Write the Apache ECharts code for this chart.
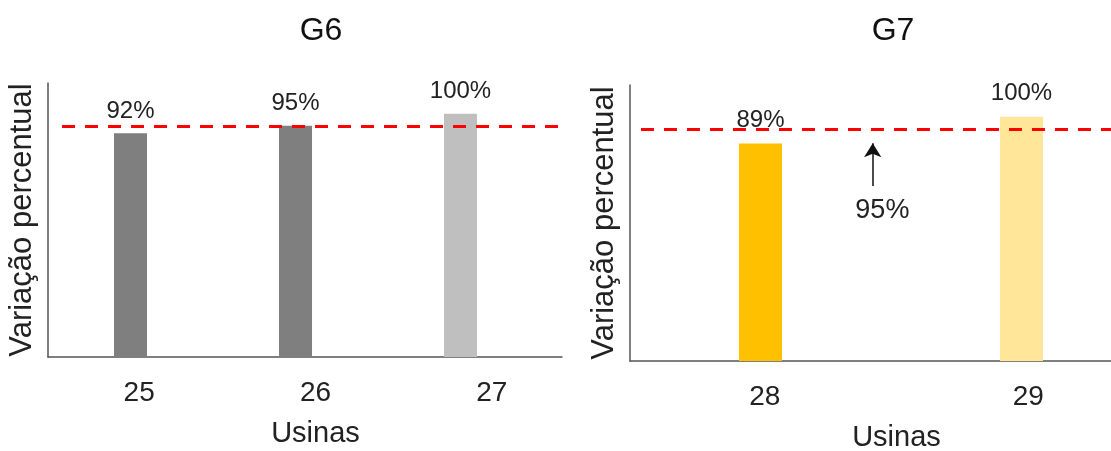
<!DOCTYPE html>
<html>
<head>
<meta charset="utf-8">
<script src="https://cdn.jsdelivr.net/npm/echarts@6/dist/echarts.min.js"></script>
<style>
html,body{margin:0;padding:0;background:#fff;}
#chart{width:1111px;height:451px;}
</style>
</head>
<body>
<div id="chart"></div>
<script>
// ---- data ----
const titles = ['G6', 'G7'];
const g6Usinas = ['25', '26', '27'];
const g6Values = [92, 95, 100];
const g7Usinas = ['28', '29'];
const g7Values = [89, 100];
const metaValue = 95;
const metaLabel = '95%';
const yName = 'Variação percentual';
const xName = 'Usinas';

// ---- styles ----
const g6Colors = ['#7f7f7f', '#7f7f7f', '#bfbfbf'];
const g7Colors = ['#ffc000', '#ffe699'];
const FONT = 'Liberation Sans, Arial, sans-serif';
const axisColor = '#555555';

const chart = echarts.init(document.getElementById('chart'));

function barData(usinas, values, colors) {
  return usinas.map((u, i) => ({ value: [Number(u), values[i]], itemStyle: { color: colors[i] } }));
}

const dashStyle = { color: '#ff0000', width: 3, type: [13, 10] };

const option = {
  animation: false,
  title: [
    { text: titles[0], left: 316, top: 10, textAlign: 'center',
      textStyle: { fontFamily: FONT, fontSize: 32, fontWeight: 'normal', color: '#111' } },
    { text: titles[1], left: 888, top: 10, textAlign: 'center',
      textStyle: { fontFamily: FONT, fontSize: 32, fontWeight: 'normal', color: '#111' } }
  ],
  grid: [
    { left: 48, width: 514, top: 83, height: 274, outerBoundsMode: 'none' },   // G6 bars
    { left: 51, width: 529, top: 83, height: 274, outerBoundsMode: 'none' },   // G6 labels
    { left: 630, width: 481, top: 85, height: 276, outerBoundsMode: 'none' },  // G7 bars
    { left: 633, width: 527, top: 85, height: 276, outerBoundsMode: 'none' }   // G7 labels
  ],
  xAxis: [
    { gridIndex: 0, type: 'value', min: 24.5, max: 27.615,
      axisLine: { show: true, onZero: false, lineStyle: { color: axisColor, width: 1.5 } },
      axisTick: { show: false }, axisLabel: { show: false }, splitLine: { show: false } },
    { gridIndex: 1, type: 'category', data: g6Usinas,
      axisLine: { show: false }, axisTick: { show: false },
      axisLabel: { fontFamily: FONT, fontSize: 28, color: '#222', margin: 22 },
      name: xName, nameLocation: 'middle', nameGap: 62,
      nameTextStyle: { fontFamily: FONT, fontSize: 29, color: '#222' } },
    { gridIndex: 2, type: 'value', min: 27.5, max: 29.343,
      axisLine: { show: true, onZero: false, lineStyle: { color: axisColor, width: 1.5 } },
      axisTick: { show: false }, axisLabel: { show: false }, splitLine: { show: false } },
    { gridIndex: 3, type: 'category', data: g7Usinas,
      axisLine: { show: false }, axisTick: { show: false },
      axisLabel: { fontFamily: FONT, fontSize: 28, color: '#222', margin: 22 },
      name: xName, nameLocation: 'middle', nameGap: 62,
      nameTextStyle: { fontFamily: FONT, fontSize: 29, color: '#222' } }
  ],
  yAxis: [
    { gridIndex: 0, type: 'value', min: 0, max: 112.6,
      axisLine: { show: true, lineStyle: { color: axisColor, width: 1.5 } },
      axisTick: { show: false }, axisLabel: { show: false }, splitLine: { show: false },
      name: yName, nameLocation: 'middle', nameGap: 10,
      nameTextStyle: { fontFamily: FONT, fontSize: 31, color: '#222' } },
    { gridIndex: 1, type: 'value', show: false },
    { gridIndex: 2, type: 'value', min: 0, max: 113,
      axisLine: { show: true, lineStyle: { color: axisColor, width: 1.5 } },
      axisTick: { show: false }, axisLabel: { show: false }, splitLine: { show: false },
      name: yName, nameLocation: 'middle', nameGap: 10,
      nameTextStyle: { fontFamily: FONT, fontSize: 31, color: '#222' } },
    { gridIndex: 3, type: 'value', show: false }
  ],
  series: [
    {
      type: 'bar', xAxisIndex: 0, yAxisIndex: 0, barWidth: 33,
      data: barData(g6Usinas, g6Values, g6Colors),
      label: { show: true, position: 'top', distance: 10, formatter: p => p.value[1] + '%',
        fontFamily: FONT, fontSize: 24, color: '#222' },
      markLine: {
        silent: true, symbol: ['none', 'none'], label: { show: false },
        lineStyle: dashStyle,
        data: [[{ coord: [24.585, metaValue] }, { coord: [27.615, metaValue] }]]
      }
    },
    {
      type: 'bar', xAxisIndex: 2, yAxisIndex: 2, barWidth: 43,
      data: barData(g7Usinas, g7Values, g7Colors),
      label: { show: true, position: 'top', distance: 11, formatter: p => p.value[1] + '%',
        fontFamily: FONT, fontSize: 24, color: '#222' },
      markLine: {
        silent: true, symbol: ['none', 'none'], label: { show: false },
        lineStyle: dashStyle,
        data: [
          [{ coord: [27.542, metaValue] }, { coord: [29.343, metaValue] }],
          [{ coord: [28.43, 71.6], symbol: 'none', lineStyle: { color: '#111', width: 1.5, type: 'solid' } },
           { coord: [28.43, 89.2], symbol: 'arrow', symbolSize: [13, 14] }]
        ]
      },
      markPoint: {
        silent: true,
        data: [{ coord: [28.467, 61.4], symbol: 'circle', symbolSize: 0,
          label: { show: true, position: 'inside', formatter: metaLabel,
            fontFamily: FONT, fontSize: 27, color: '#222' } }]
      }
    }
  ]
};

chart.setOption(option);
</script>
</body>
</html>
